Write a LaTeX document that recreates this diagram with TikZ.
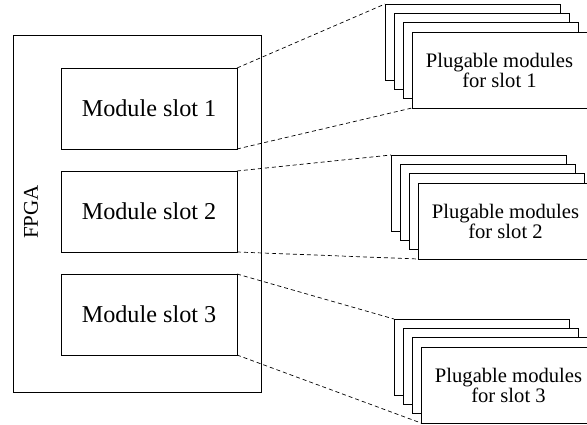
\documentclass[tikz,border=0pt]{standalone}
\usepackage{fontspec}
\setmainfont{Liberation Serif}
\begin{document}
\begin{tikzpicture}[x=1pt,y=-1pt,
  box/.style={draw=black,line width=0.9pt,fill=white,inner sep=0pt,outer sep=0pt},
  slotbox/.style={box,minimum width=176pt,minimum height=81pt,
    font=\fontsize{24.2}{28}\selectfont},
  card/.style={box,minimum width=175pt,minimum height=76pt},
  cardtext/.style={font=\fontsize{20.6}{18.5}\selectfont,align=center},
  link/.style={line width=0.7pt,dash pattern=on 4pt off 3pt}]
\useasboundingbox (0,0) rectangle (587,425);

% FPGA with its three module slots
\node[box,minimum width=248pt,minimum height=357pt] (fpga) at (137,213.5) {};
\node[rotate=90,font=\fontsize{21}{24}\selectfont] (fpgalabel) at (31,212) {FPGA};
\node[slotbox] (slot1) at (149,108.5) {Module slot 1};
\node[slotbox] (slot2) at (149,211.5) {Module slot 2};
\node[slotbox] (slot3) at (149,314.5) {Module slot 3};

% stacks of plugable modules, drawn back to front
\node[card] (m1a) at (385+87.5,4+38) {};
\node[card] (m1b) at (394+87.5,13.3+38) {};
\node[card] (m1c) at (403+87.5,22.6+38) {};
\node[card,cardtext] (m1d) at (412+87.5,32+38) {Plugable modules\\for slot 1};

\node[card] (m2a) at (391+87.5,155+38) {};
\node[card] (m2b) at (400+87.5,164.3+38) {};
\node[card] (m2c) at (409+87.5,173.6+38) {};
\node[card,cardtext] (m2d) at (418+87.5,183+38) {Plugable modules\\for slot 2};

\node[card] (m3a) at (394+87.5,319+38) {};
\node[card] (m3b) at (403+87.5,328.3+38) {};
\node[card] (m3c) at (412+87.5,337.6+38) {};
\node[card,cardtext] (m3d) at (421+87.5,347+38) {Plugable modules\\for slot 3};

% dashed links from each slot to its stack
\draw[link] (slot1.north east) -- (m1a.north west);
\draw[link] (slot1.south east) -- (m1d.south west);
\draw[link] (slot2.north east) -- (m2a.north west);
\draw[link] (slot2.south east) -- (m2d.south west);
\draw[link] (slot3.north east) -- (m3a.north west);
\draw[link] (slot3.south east) -- (m3d.south west);
\end{tikzpicture}
\end{document}
